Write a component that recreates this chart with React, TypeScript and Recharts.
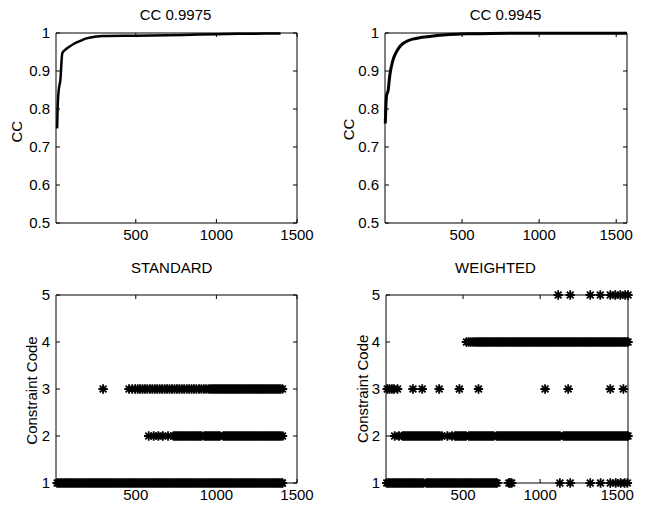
import React from 'react';
import { LineChart, Line, ScatterChart, Scatter, XAxis, YAxis, ReferenceArea } from 'recharts';

const FONT = '"Liberation Sans", Arial, Helvetica, sans-serif';

// top panels: correlation coefficient against iteration
const ccStdIter = [12, 15, 19, 22, 32, 44, 60, 85, 122, 160, 194, 244, 300, 500, 800, 1000, 1200, 1398];
const ccStd = [0.749, 0.8, 0.835, 0.85, 0.876, 0.947, 0.955, 0.963, 0.973, 0.98, 0.986, 0.99, 0.992, 0.993, 0.995, 0.997, 0.998, 0.999];

const ccWtdIter = [2, 6, 10, 21, 30, 37, 45, 55, 70, 90, 110, 140, 180, 230, 271, 312, 380, 463, 560, 680, 900, 1200, 1570];
const ccWtd = [0.762, 0.81, 0.835, 0.85, 0.885, 0.903, 0.918, 0.933, 0.947, 0.961, 0.97, 0.978, 0.984, 0.988, 0.99, 0.992, 0.995, 0.997, 0.998, 0.999, 0.9993, 0.9995, 0.9995];

const ccTicks = [0.5, 0.6, 0.7, 0.8, 0.9, 1];
const iterTicks = [500, 1000, 1500];
const codeTicks = [1, 2, 3, 4, 5];

// bottom panels: iterations at which each constraint code shows up
const stdCode1 = [12, 21, 31, 40, 50, 60, 69, 79, 88, 98, 108, 117, 127, 136, 146, 156, 165, 175, 184, 194, 204, 213, 223, 232, 242, 252, 261, 271, 280, 290, 300, 309, 319, 328, 338, 348, 357, 367, 376, 386, 396, 405, 415, 424, 434, 444, 453, 463, 472, 482, 492, 501, 511, 520, 530, 540, 549, 559, 568, 578, 588, 597, 607, 616, 626, 636, 645, 655, 664, 674, 684, 693, 703, 712, 722, 732, 741, 751, 760, 770, 780, 789, 799, 808, 818, 828, 837, 847, 856, 866, 876, 885, 895, 904, 914, 924, 933, 943, 952, 962, 972, 981, 991, 1000, 1010, 1020, 1029, 1039, 1048, 1058, 1068, 1077, 1087, 1096, 1106, 1116, 1125, 1135, 1144, 1154, 1164, 1173, 1183, 1192, 1202, 1212, 1221, 1231, 1240, 1250, 1260, 1269, 1279, 1288, 1298, 1308, 1317, 1327, 1336, 1346, 1356, 1365, 1375, 1384, 1394, 1404, 1410];
const stdCode2 = [580, 611, 640, 668, 700, 735, 744, 754, 763, 773, 783, 792, 802, 811, 821, 831, 840, 850, 859, 869, 879, 888, 898, 907, 925, 935, 944, 954, 963, 973, 983, 992, 1002, 1011, 1021, 1043, 1052, 1062, 1071, 1081, 1091, 1100, 1110, 1119, 1129, 1139, 1148, 1158, 1167, 1177, 1187, 1196, 1206, 1215, 1225, 1235, 1244, 1254, 1263, 1273, 1283, 1292, 1302, 1311, 1321, 1331, 1340, 1350, 1359, 1369, 1379, 1388, 1398, 1410];
const stdCode3 = [297, 458, 478, 496, 512, 527, 542, 557, 572, 588, 603, 618, 633, 648, 664, 679, 694, 709, 724, 740, 755, 770, 785, 800, 816, 831, 846, 861, 876, 892, 907, 922, 937, 952, 964, 974, 983, 993, 1002, 1012, 1022, 1031, 1041, 1050, 1060, 1070, 1079, 1089, 1098, 1108, 1118, 1127, 1137, 1146, 1156, 1166, 1175, 1185, 1194, 1204, 1214, 1223, 1233, 1242, 1252, 1262, 1271, 1281, 1290, 1300, 1310, 1319, 1329, 1338, 1348, 1358, 1367, 1377, 1386, 1396, 1410];

const wtdCode1 = [5, 15, 25, 35, 45, 55, 64, 74, 84, 94, 104, 114, 124, 134, 144, 154, 164, 173, 183, 193, 203, 213, 223, 233, 243, 262, 272, 282, 292, 302, 312, 322, 332, 342, 352, 362, 372, 382, 392, 402, 412, 422, 432, 442, 452, 462, 472, 482, 492, 502, 512, 522, 532, 542, 552, 562, 572, 582, 592, 602, 612, 622, 632, 642, 652, 662, 672, 682, 692, 702, 712, 720, 797, 806, 815, 1128, 1195, 1325, 1392, 1455, 1490, 1522, 1548, 1566];
const wtdCode2 = [56, 84, 108, 118, 128, 138, 148, 158, 168, 178, 188, 198, 208, 218, 228, 238, 248, 258, 268, 278, 288, 298, 308, 318, 328, 338, 348, 362, 398, 428, 448, 458, 468, 478, 488, 498, 508, 518, 538, 548, 558, 568, 578, 588, 598, 608, 618, 628, 638, 648, 658, 668, 678, 688, 698, 718, 728, 738, 748, 758, 768, 778, 788, 798, 808, 818, 828, 838, 848, 858, 868, 878, 888, 898, 908, 918, 928, 938, 948, 958, 968, 978, 988, 998, 1008, 1018, 1028, 1038, 1048, 1058, 1068, 1078, 1088, 1098, 1108, 1118, 1128, 1152, 1162, 1172, 1182, 1192, 1202, 1212, 1222, 1232, 1242, 1252, 1262, 1272, 1282, 1292, 1302, 1312, 1322, 1332, 1342, 1352, 1362, 1372, 1382, 1392, 1402, 1412, 1422, 1432, 1442, 1452, 1462, 1472, 1482, 1492, 1502, 1512, 1522, 1532, 1542, 1552, 1562, 1570];
const wtdCode3 = [8, 22, 38, 52, 75, 175, 235, 345, 476, 600, 1032, 1182, 1455, 1540];
const wtdCode4 = [522, 536, 550, 564, 578, 590, 600, 610, 620, 630, 640, 650, 660, 670, 680, 690, 700, 710, 720, 730, 740, 750, 760, 770, 780, 790, 800, 810, 820, 830, 840, 850, 860, 870, 880, 890, 900, 910, 920, 930, 940, 950, 960, 970, 980, 990, 1000, 1010, 1020, 1030, 1040, 1050, 1060, 1070, 1080, 1090, 1100, 1110, 1120, 1130, 1140, 1150, 1160, 1170, 1180, 1190, 1200, 1210, 1220, 1230, 1240, 1250, 1260, 1270, 1280, 1290, 1300, 1310, 1320, 1330, 1340, 1350, 1360, 1370, 1380, 1390, 1400, 1410, 1420, 1430, 1440, 1450, 1460, 1470, 1480, 1490, 1500, 1510, 1520, 1530, 1540, 1550, 1560, 1570];
const wtdCode5 = [1117, 1195, 1325, 1390, 1455, 1487, 1520, 1552, 1570];

const W = 323;
const H = 253;
const XH = 20;
const YW = 30;

type Box = { top: number; right: number; bottom: number; left: number };

const marginFor = (b: Box) => ({ top: b.top, right: W - b.right, bottom: H - b.bottom - XH, left: b.left - YW });

const makeXTick = (b: Box) => (p: any) => (
  <g>
    <line x1={p.x} x2={p.x} y1={b.bottom} y2={b.bottom - 4} stroke="#000" />
    <line x1={p.x} x2={p.x} y1={b.top} y2={b.top + 4} stroke="#000" />
    <text x={p.x} y={b.bottom + 17} textAnchor="middle" fontSize={15} fontFamily={FONT} fill="#000">
      {p.payload.value}
    </text>
  </g>
);

const makeYTick = (b: Box) => (p: any) => (
  <g>
    <line x1={b.left} x2={b.left + 4} y1={p.y} y2={p.y} stroke="#000" />
    <line x1={b.right} x2={b.right - 4} y1={p.y} y2={p.y} stroke="#000" />
    <text x={b.left - 6} y={p.y + 5.4} textAnchor="end" fontSize={15} fontFamily={FONT} fill="#000">
      {p.payload.value}
    </text>
  </g>
);

const Star = (p: any) => {
  const { cx, cy } = p;
  const r = 4.7;
  const d = 3.4;
  return (
    <path
      d={`M${cx - r},${cy}H${cx + r}M${cx},${cy - r}V${cy + r}M${cx - d},${cy - d}L${cx + d},${cy + d}M${cx - d},${cy + d}L${cx + d},${cy - d}`}
      stroke="#000"
      strokeWidth={1.8}
      fill="none"
    />
  );
};

function CcPanel({ box, iters, cc, xDomain, width }: { box: Box; iters: number[]; cc: number[]; xDomain: number[]; width: number }) {
  const data = iters.map((x, i) => ({ x, cc: cc[i] }));
  return (
    <LineChart width={W} height={H} data={data} margin={marginFor(box)}>
      <XAxis dataKey="x" type="number" domain={xDomain} ticks={iterTicks} height={XH} tickSize={0} axisLine={false} tickLine={false} tick={makeXTick(box)} />
      <YAxis type="number" domain={[0.5, 1]} ticks={ccTicks} width={YW} tickSize={0} axisLine={false} tickLine={false} tick={makeYTick(box)} />
      <ReferenceArea x1={xDomain[0]} x2={xDomain[1]} y1={0.5} y2={1} fill="none" stroke="#000" strokeWidth={1} ifOverflow="visible" />
      <Line dataKey="cc" type="monotone" stroke="#000" strokeWidth={width} dot={false} isAnimationActive={false} />
    </LineChart>
  );
}

function CodePanel({ box, codes, xDomain }: { box: Box; codes: number[][]; xDomain: number[] }) {
  return (
    <ScatterChart width={W} height={H} margin={marginFor(box)}>
      <XAxis dataKey="x" type="number" domain={xDomain} ticks={iterTicks} height={XH} tickSize={0} axisLine={false} tickLine={false} tick={makeXTick(box)} />
      <YAxis dataKey="y" type="number" domain={[1, 5]} ticks={codeTicks} width={YW} tickSize={0} axisLine={false} tickLine={false} tick={makeYTick(box)} />
      <ReferenceArea x1={xDomain[0]} x2={xDomain[1]} y1={1} y2={5} fill="none" stroke="#000" strokeWidth={1} ifOverflow="visible" />
      {codes.map((xs, i) => (
        <Scatter key={i} data={xs.map((x) => ({ x, y: i + 1 }))} shape={Star} isAnimationActive={false} />
      ))}
    </ScatterChart>
  );
}

const txt = { fontSize: 15, fontFamily: FONT, fill: '#000' };

export default function App() {
  return (
    <div style={{ position: 'absolute', left: 0, top: 0, width: 646, height: 506, background: '#fff' }}>
      <div style={{ position: 'absolute', left: 0, top: 0 }}>
        <CcPanel box={{ left: 56, right: 297, top: 33, bottom: 223 }} iters={ccStdIter} cc={ccStd} xDomain={[5, 1500]} width={2.5} />
      </div>
      <div style={{ position: 'absolute', left: 323, top: 0 }}>
        <CcPanel box={{ left: 62, right: 304, top: 33, bottom: 223 }} iters={ccWtdIter} cc={ccWtd} xDomain={[0, 1570]} width={3} />
      </div>
      <div style={{ position: 'absolute', left: 0, top: 253 }}>
        <CodePanel box={{ left: 56, right: 297, top: 42, bottom: 230 }} codes={[stdCode1, stdCode2, stdCode3]} xDomain={[5, 1500]} />
      </div>
      <div style={{ position: 'absolute', left: 323, top: 253 }}>
        <CodePanel box={{ left: 63, right: 305, top: 42, bottom: 230 }} codes={[wtdCode1, wtdCode2, wtdCode3, wtdCode4, wtdCode5]} xDomain={[0, 1570]} />
      </div>
      <svg width={646} height={506} style={{ position: 'absolute', left: 0, top: 0, pointerEvents: 'none' }}>
        <text x={175.5} y={20.4} textAnchor="middle" {...txt}>CC 0.9975</text>
        <text x={505.5} y={20.4} textAnchor="middle" {...txt}>CC 0.9945</text>
        <text x={171.7} y={273.4} textAnchor="middle" {...txt}>STANDARD</text>
        <text x={495.5} y={273.4} textAnchor="middle" {...txt}>WEIGHTED</text>
        <text transform="translate(16.7,131.7) rotate(-90)" x={0} y={5.4} textAnchor="middle" {...txt}>CC</text>
        <text transform="translate(349,129.5) rotate(-90)" x={0} y={5.4} textAnchor="middle" {...txt}>CC</text>
        <text transform="translate(32,390.5) rotate(-90)" x={0} y={5.4} textAnchor="middle" {...txt}>Constraint Code</text>
        <text transform="translate(363,388.8) rotate(-90)" x={0} y={5.4} textAnchor="middle" {...txt}>Constraint Code</text>
      </svg>
    </div>
  );
}
